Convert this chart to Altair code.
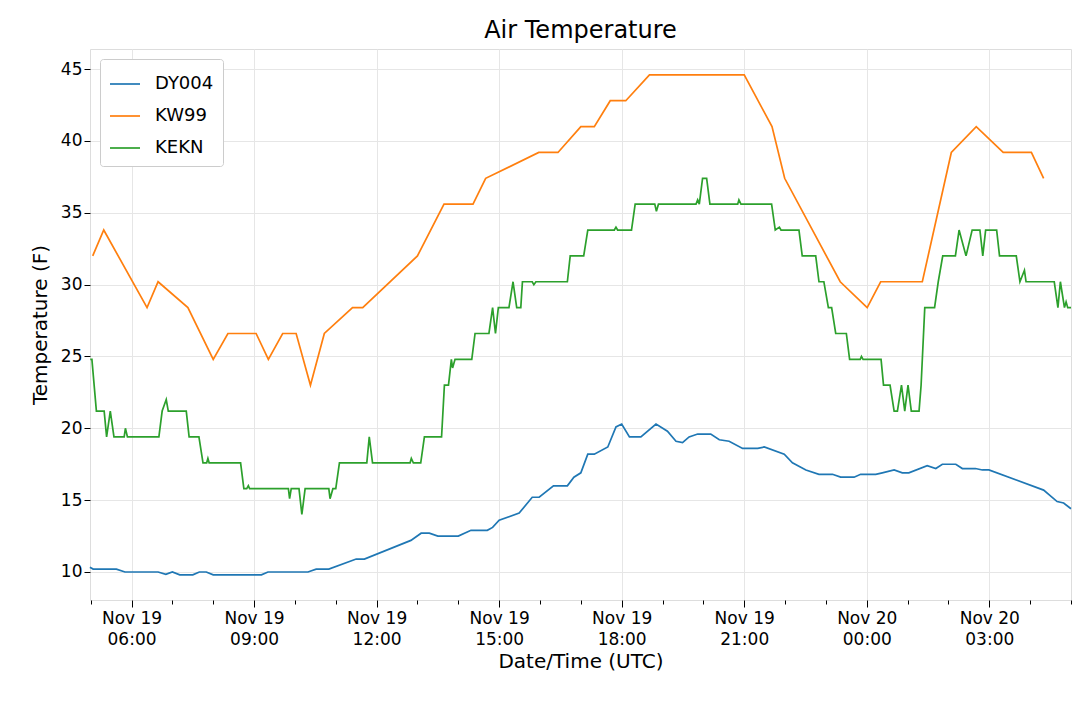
import altair as alt
import pandas as pd

# hours after Nov 19 00:00 UTC, temperature in F
dy004_h = [4.98, 5.06, 5.63, 5.84, 6.65, 6.84, 7.0, 7.18, 7.5, 7.66, 7.83, 8.0, 9.18, 9.34, 10.32,
           10.52, 10.83, 11.5, 11.7, 12.84, 13.09, 13.29, 13.5, 14.0, 14.31, 14.71, 14.84, 15.0,
           15.49, 15.81, 15.98, 16.33, 16.67, 16.83, 17.0, 17.17, 17.33, 17.66, 17.86, 18.0, 18.19,
           18.47, 18.84, 19.12, 19.33, 19.49, 19.65, 19.86, 20.18, 20.39, 20.63, 20.96, 21.33, 21.49,
           21.98, 22.18, 22.51, 22.83, 23.16, 23.36, 23.69, 23.85, 24.22, 24.38, 24.67, 24.87, 25.03,
           25.48, 25.69, 25.85, 26.18, 26.34, 26.66, 26.83, 26.99, 28.33, 28.66, 28.82, 29.0]
dy004_v = [10.33, 10.2, 10.2, 10.0, 10.0, 9.84, 10.0, 9.8, 9.8, 10.0, 10.0, 9.8, 9.8, 10.0, 10.0,
           10.2, 10.2, 10.9, 10.9, 12.2, 12.7, 12.7, 12.5, 12.5, 12.9, 12.9, 13.1, 13.6,
           14.1, 15.2, 15.2, 16.0, 16.0, 16.6, 16.9, 18.2, 18.2, 18.7, 20.1, 20.3, 19.4,
           19.4, 20.3, 19.8, 19.1, 19.0, 19.4, 19.6, 19.6, 19.2, 19.1, 18.6, 18.6, 18.7,
           18.2, 17.6, 17.1, 16.8, 16.8, 16.6, 16.6, 16.8, 16.8, 16.9, 17.1, 16.9, 16.9,
           17.4, 17.2, 17.5, 17.5, 17.2, 17.2, 17.1, 17.1, 15.7, 14.9, 14.8, 14.4]

kw99_h = [5.05, 5.32, 6.38, 6.65, 7.38, 8.0, 8.36, 9.05, 9.35, 9.70, 10.03, 10.38, 10.72, 11.41,
          11.66, 13.0, 13.65, 14.36, 14.67, 15.97, 16.44, 17.0, 17.33, 17.72, 18.1, 18.68, 21.0,
          21.68, 21.99, 23.35, 24.01, 24.34, 25.36, 26.07, 26.68, 27.34, 28.03, 28.33]
kw99_v = [32.0, 33.8, 28.4, 30.2, 28.4, 24.8, 26.6, 26.6, 24.8, 26.6, 26.6, 23.0, 26.6, 28.4,
          28.4, 32.0, 35.6, 35.6, 37.4, 39.2, 39.2, 41.0, 41.0, 42.8, 42.8, 44.6, 44.6,
          41.0, 37.4, 30.2, 28.4, 30.2, 30.2, 39.2, 41.0, 39.2, 39.2, 37.4]

kekn_h = [4.99, 5.03, 5.14, 5.33, 5.39, 5.48, 5.57, 5.82, 5.85, 5.9, 6.67, 6.75, 6.85, 6.9, 7.34,
          7.41, 7.65, 7.75, 7.84, 7.87, 7.9, 8.67, 8.75, 8.82, 8.86, 8.89, 9.84, 9.87, 9.91, 10.1,
          10.17, 10.25, 10.83, 10.86, 10.93, 11.0, 11.09, 11.76, 11.82, 11.9, 12.82, 12.85, 12.9,
          13.08, 13.17, 13.59, 13.66, 13.76, 13.83, 13.86, 13.92, 14.33, 14.41, 14.75, 14.84,
          14.91, 14.98, 15.24, 15.34, 15.43, 15.53, 15.57, 15.81, 15.85, 15.9, 16.67, 16.74,
          17.07, 17.17, 17.82, 17.86, 17.9, 18.24, 18.33, 18.81, 18.85, 18.9, 19.82, 19.86, 19.9,
          19.98, 20.08, 20.16, 20.84, 20.87, 20.92, 21.67, 21.76, 21.86, 21.9, 22.34, 22.42,
          22.75, 22.83, 22.95, 23.06, 23.14, 23.24, 23.5, 23.58, 23.84, 23.87, 23.91, 24.35,
          24.41, 24.57, 24.67, 24.75, 24.85, 24.93, 25.01, 25.09, 25.28, 25.33, 25.42, 25.66,
          25.75, 25.86, 26.17, 26.26, 26.43, 26.58, 26.77, 26.84, 26.91, 27.18, 27.25, 27.66,
          27.75, 27.86, 27.9, 28.59, 28.68, 28.74, 28.84, 28.88, 28.92, 29.0]
kekn_v = [24.8, 24.8, 21.2, 21.2, 19.4, 21.2, 19.4, 19.4, 20.0, 19.4, 19.4, 21.2, 22.0, 21.2, 21.2,
          19.4, 19.4, 17.6, 17.6, 17.9, 17.6, 17.6, 15.8, 15.8, 16.0, 15.8, 15.8, 15.1, 15.8, 15.8,
          14.0, 15.8, 15.8, 15.1, 15.8, 15.8, 17.6, 17.6, 19.4, 17.6, 17.6, 17.9, 17.6,
          17.6, 19.4, 19.4, 23.0, 23.0, 24.8, 24.2, 24.8, 24.8, 26.6, 26.6, 28.4,
          26.6, 28.4, 28.4, 30.2, 28.4, 28.4, 30.2, 30.2, 30.0, 30.2, 30.2, 32.0,
          32.0, 33.8, 33.8, 34.0, 33.8, 33.8, 35.6, 35.6, 35.1, 35.6, 35.6, 35.9, 35.6,
          37.4, 37.4, 35.6, 35.6, 35.9, 35.6, 35.6, 33.8, 34.0, 33.8, 33.8, 32.0,
          32.0, 30.2, 30.2, 28.4, 28.4, 26.6, 26.6, 24.8, 24.8, 25.0, 24.8, 24.8,
          23.0, 23.0, 21.2, 21.2, 23.0, 21.2, 23.0, 21.2, 21.2, 23.0, 28.4, 28.4,
          30.2, 32.0, 32.0, 33.8, 32.0, 33.8, 33.8, 32.0, 33.8, 33.8, 32.0, 32.0,
          30.2, 31.0, 30.2, 30.2, 28.4, 30.2, 28.4, 28.8, 28.4, 28.4]

stations = ["DY004", "KW99", "KEKN"]
colors = ["#1f77b4", "#ff7f0e", "#2ca02c"]

base = pd.Timestamp("2019-11-19T00:00:00Z")
frames = []
for name, hs, vs in [("DY004", dy004_h, dy004_v), ("KW99", kw99_h, kw99_v), ("KEKN", kekn_h, kekn_v)]:
    frames.append(pd.DataFrame({
        "time": [(base + pd.Timedelta(hours=h)).strftime("%Y-%m-%dT%H:%M:%SZ") for h in hs],
        "temp": vs,
        "station": name,
    }))
df = pd.concat(frames)

# one tick per hour, labels and grid every third hour
tick_vals = [alt.DateTime(year=2019, month=11, date=19 + h // 24, hours=h % 24, utc=True) for h in range(5, 30)]
major = "utchours(datum.value) % 3 == 0"

x_axis = alt.Axis(
    values=tick_vals,
    labelExpr=f"{major} ? [utcFormat(datum.value, '%b %d'), utcFormat(datum.value, '%H:%M')] : ''",
    gridColor={"condition": {"test": major, "value": "#e6e6e6"}, "value": "rgba(0,0,0,0)"},
    tickSize={"condition": {"test": major, "value": 7}, "value": 4},
    labelFontSize=17, titleFontSize=20, titleFontWeight="normal", labelColor="black",
    titleColor="black", domain=False, tickColor="black", labelPadding=3,
    titlePadding=4, labelFlush=False, labelLineHeight=21,
)

chart = alt.Chart(df).mark_line(strokeWidth=1.7).encode(
    x=alt.X("time:T", title="Date/Time (UTC)", axis=x_axis,
            scale=alt.Scale(type="utc",
                            domain=[alt.DateTime(year=2019, month=11, date=19, hours=4, minutes=59, utc=True),
                                    alt.DateTime(year=2019, month=11, date=20, hours=5, minutes=0, utc=True)])),
    y=alt.Y("temp:Q", title="Temperature (F)",
            scale=alt.Scale(domain=[8.05, 46.4], nice=False),
            axis=alt.Axis(values=[10, 15, 20, 25, 30, 35, 40, 45], labelFontSize=17, titleFontSize=20,
                          titleFontWeight="normal", labelColor="black", titleColor="black",
                          domain=False, tickColor="black", tickSize=6, gridColor="#e6e6e6",
                          titlePadding=10)),
    color=alt.Color("station:N", sort=stations, scale=alt.Scale(domain=stations, range=colors),
                    legend=alt.Legend(title=None, orient="none", legendX=10, legendY=10,
                                      symbolType="stroke", symbolSize=900, symbolStrokeWidth=1.7,
                                      labelFontSize=18, labelColor="black", labelOffset=14,
                                      strokeColor="#cccccc", fillColor="white", padding=9,
                                      cornerRadius=3, rowPadding=7)),
).properties(
    width=981, height=551,
    title=alt.Title("Air Temperature", fontSize=24, fontWeight="normal", color="black", offset=6),
    autosize=alt.AutoSizeParams(type="none"),
    padding={"left": 82, "top": 41, "right": 1, "bottom": 96},
).configure_view(stroke="black", strokeWidth=1).configure(font="DejaVu Sans")

chart.save("out.html", embed_options={"renderer": "svg", "actions": False})
